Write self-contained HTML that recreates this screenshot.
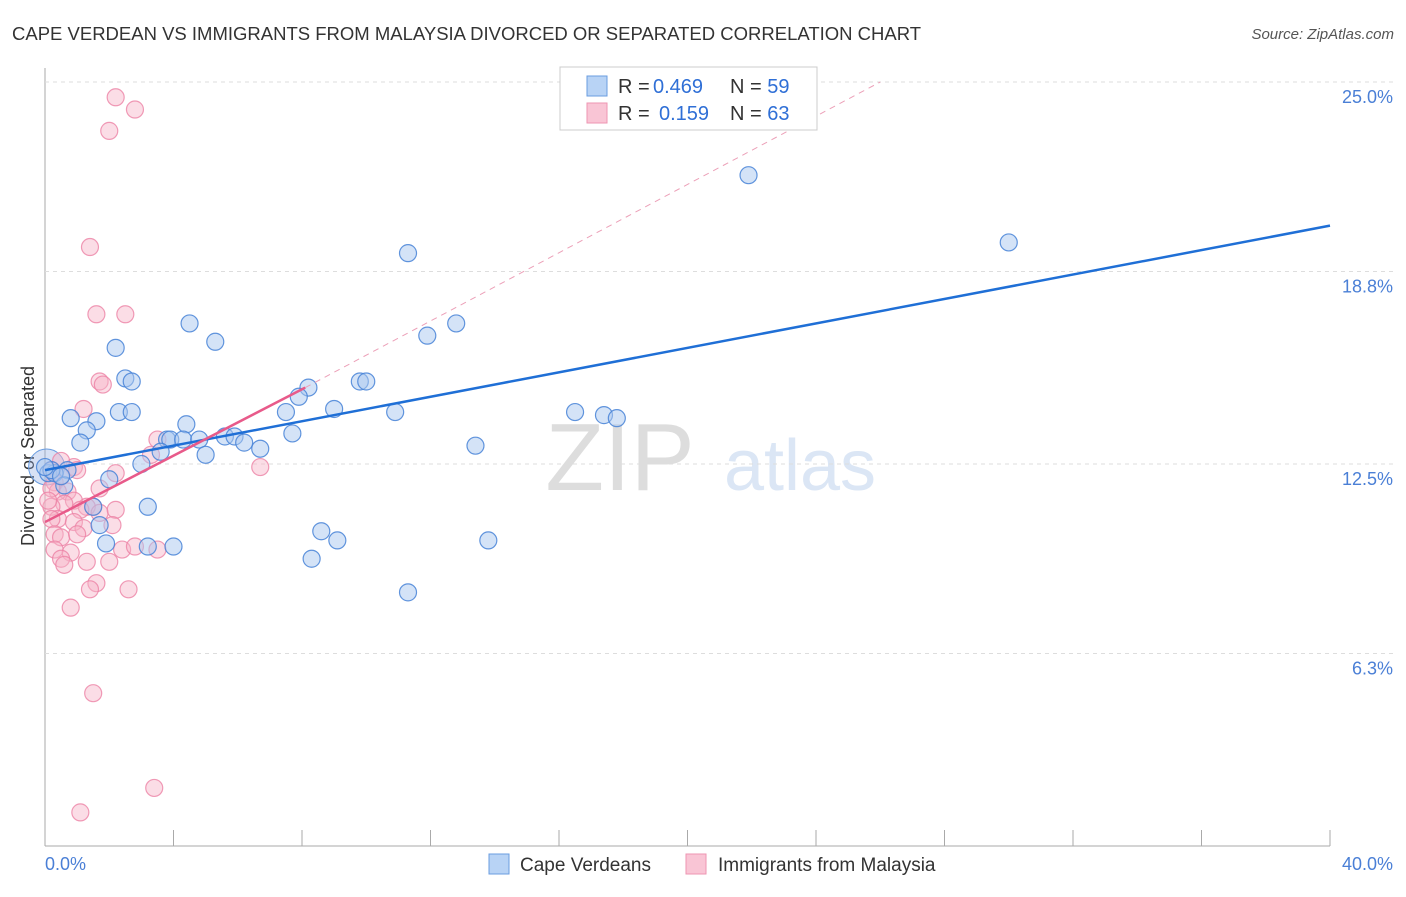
<!DOCTYPE html>
<html><head><meta charset="utf-8"><style>
body{margin:0;background:#fff;font-family:"Liberation Sans",sans-serif;}
svg text{font-family:"Liberation Sans",sans-serif;}
</style></head><body>
<svg id="c" width="1406" height="892">
<text x="12" y="40" font-size="18.5" fill="#333">CAPE VERDEAN VS IMMIGRANTS FROM MALAYSIA DIVORCED OR SEPARATED CORRELATION CHART</text>
<text x="1394" y="39" font-size="15" fill="#555" font-style="italic" text-anchor="end">Source: ZipAtlas.com</text>
<text x="620" y="490" font-size="96" fill="#ddd" font-family="Liberation Serif" text-anchor="middle">ZIP</text>
<text x="800" y="490" font-size="72" fill="#dbe6f5" text-anchor="middle">atlas</text>
<text x="34" y="456" font-size="18" fill="#333" text-anchor="middle" transform="rotate(-90 34 456)">Divorced or Separated</text>
<g id="grid"></g><g id="pts"></g><g id="lines"></g>
<rect x="560" y="67" width="257" height="63" fill="#fff" stroke="#ccc"/>
<rect x="587" y="76" width="20" height="20" fill="#b8d3f5" stroke="#6a9de0"/>
<rect x="587" y="103" width="20" height="20" fill="#f9c5d5" stroke="#ee95b2"/>
<text x="618" y="93" font-size="20" fill="#333">R = </text>
<text x="653" y="93" font-size="20" fill="#2f6fd6">0.469</text>
<text x="730" y="93" font-size="20" fill="#333">N = <tspan fill="#2f6fd6">59</tspan></text>
<text x="618" y="120" font-size="20" fill="#333">R = </text>
<text x="659" y="120" font-size="20" fill="#2f6fd6">0.159</text>
<text x="730" y="120" font-size="20" fill="#333">N = <tspan fill="#2f6fd6">63</tspan></text>
<rect x="489" y="854" width="20" height="20" fill="#b8d3f5" stroke="#6a9de0"/>
<text x="520" y="871" font-size="19" fill="#333">Cape Verdeans</text>
<rect x="686" y="854" width="20" height="20" fill="#f9c5d5" stroke="#ee95b2"/>
<text x="718" y="871" font-size="19" fill="#333">Immigrants from Malaysia</text>
<text x="45" y="870" font-size="18" fill="#4a7fd6">0.0%</text>
<text x="1393" y="870" font-size="18" fill="#4a7fd6" text-anchor="end">40.0%</text>
</svg>
<script>
const yTicks=[25,18.8,12.5,6.3];
const yTickLabels=["25.0%","18.8%","12.5%","6.3%"];
const xTicks=[0,4,8,12,16,20,24,28,32,36,40];
const blueX=[21.9,30.0,11.3,4.5,12.8,5.3,11.9,2.2,2.5,2.7,9.8,10.0,8.2,7.9,9.0,7.5,10.9,16.5,17.4,17.8,2.3,2.7,0.8,1.6,4.4,1.3,7.7,1.1,3.8,3.9,4.3,4.8,5.6,5.9,6.2,6.7,5.0,3.6,13.4,3.0,0.7,0.1,0.3,2.0,0.6,3.2,1.5,1.7,8.6,9.1,13.8,1.9,3.2,4.0,8.3,11.3,0.2,0.5,0.0];
const blueY=[21.95,19.75,19.4,17.1,17.1,16.5,16.7,16.3,15.3,15.2,15.2,15.2,15.0,14.7,14.3,14.2,14.2,14.2,14.1,14.0,14.2,14.2,14.0,13.9,13.8,13.6,13.5,13.2,13.3,13.3,13.3,13.3,13.4,13.4,13.2,13.0,12.8,12.9,13.1,12.5,12.3,12.2,12.2,12.0,11.8,11.1,11.1,10.5,10.3,10.0,10.0,9.9,9.8,9.8,9.4,8.3,12.3,12.1,12.4];
const pinkX=[2.2,2.8,2.0,1.4,1.6,2.5,1.7,1.8,1.2,3.5,3.3,6.7,0.9,1.0,2.2,0.5,0.3,0.7,0.4,1.7,0.9,1.5,0.6,1.3,0.2,1.1,1.7,0.4,0.9,2.2,2.1,1.2,0.2,0.3,0.5,1.0,0.3,0.8,0.5,1.3,2.4,2.8,3.5,2.0,0.6,1.6,1.4,2.6,0.8,1.5,3.4,1.1,0.2,0.1,0.2,0.5];
const pinkY=[24.5,24.1,23.4,19.6,17.4,17.4,15.2,15.1,14.3,13.3,12.8,12.4,12.4,12.3,12.2,12.1,11.9,11.6,11.6,11.7,11.3,11.1,11.2,11.1,11.1,11.0,10.9,10.7,10.6,11.0,10.5,10.4,10.7,10.2,10.1,10.2,9.7,9.6,9.4,9.3,9.7,9.8,9.7,9.3,9.2,8.6,8.4,8.4,7.8,5.0,1.9,1.1,11.7,11.3,12.3,12.6];
const blueLine=[0,12.3,40,20.3];
const pinkSolid=[0,10.6,8.1,15.0];
const pinkDash=[8.1,15.0,26,25];
const X=v=>45+v/40*1285, Y=v=>846-v/25*764;
const ns="http://www.w3.org/2000/svg";
function mk(t,a,p){const e=document.createElementNS(ns,t);for(const k in a)e.setAttribute(k,a[k]);p.appendChild(e);return e;}
const g=document.getElementById('grid');
let ax=mk('line',{x1:45,y1:68,x2:45,y2:846,stroke:'#aaa'},g);


let bx=mk('line',{x1:45,y1:846,x2:1330,y2:846,stroke:'#aaa'},g);


yTicks.forEach((v,i)=>{
 const l=mk('line',{x1:45,x2:1394,y1:Y(v),y2:Y(v),stroke:'#ddd','stroke-dasharray':'4,4'},g);
 
 
 const t=mk('text',{x:1393,y:Y(v)+21,'font-size':18,fill:'#4a7fd6','text-anchor':'end'},g);t.textContent=yTickLabels[i];
 
 
});
xTicks.forEach(v=>{
 const l=mk('line',{x1:X(v),x2:X(v),y1:830,y2:846,stroke:'#aaa'},g);
 
 
});
const p=document.getElementById('pts');
const bigB=mk('circle',{cx:X(0.05),cy:Y(12.4),r:18,fill:'rgba(140,170,225,0.35)',stroke:'#6a9de0'},p);


pinkX.forEach((x,i)=>{
 const c=mk('circle',{cx:X(x),cy:Y(pinkY[i]),r:8.5,fill:'rgba(246,180,200,0.45)',stroke:'rgba(236,130,165,0.8)','stroke-width':1.2},p);
 
 
});
blueX.forEach((x,i)=>{
 const c=mk('circle',{cx:X(x),cy:Y(blueY[i]),r:8.5,fill:'rgba(170,200,240,0.5)',stroke:'rgba(70,130,215,0.85)','stroke-width':1.2},p);
 
 
});
const L=document.getElementById('lines');
const tb=mk('line',{x1:X(blueLine[0]),y1:Y(blueLine[1]),x2:X(blueLine[2]),y2:Y(blueLine[3]),stroke:'#1f6fd6','stroke-width':2.5},L);


const td=mk('line',{x1:X(pinkDash[0]),y1:Y(pinkDash[1]),x2:X(pinkDash[2]),y2:Y(pinkDash[3]),stroke:'#eca0b8','stroke-width':1,'stroke-dasharray':'6,5'},L);


const tp=mk('line',{x1:X(pinkSolid[0]),y1:Y(pinkSolid[1]),x2:X(pinkSolid[2]),y2:Y(pinkSolid[3]),stroke:'#e85a8a','stroke-width':2.5},L);


</script>
</body></html>
